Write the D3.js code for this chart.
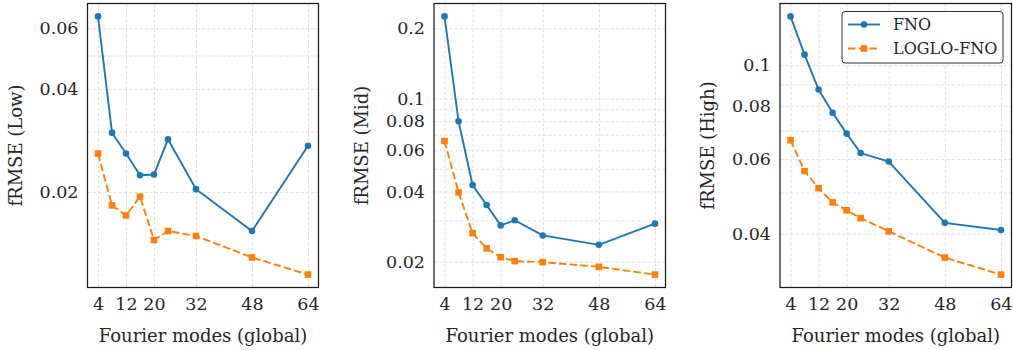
<!DOCTYPE html>
<html>
<head>
<meta charset="utf-8">
<script src="https://cdn.jsdelivr.net/npm/d3@7"></script>
<style>
  body { margin: 0; background: #fff; }
  text { font-family: "DejaVu Serif", serif; fill: #262626; }
</style>
</head>
<body>
<svg id="fig" width="1013" height="350"></svg>
<script>
// Number of global Fourier modes on the x axis
const modes = [4, 8, 12, 16, 20, 24, 32, 48, 64];
const xTickValues = [4, 12, 20, 32, 48, 64];

// fRMSE per frequency band
const fnoLow    = [0.065, 0.0298, 0.0259, 0.0224, 0.0225, 0.0285, 0.0204, 0.0154, 0.0273];
const logloLow  = [0.0259, 0.0183, 0.0171, 0.0194, 0.0145, 0.0154, 0.0149, 0.0129, 0.0115];
const fnoMid    = [0.225, 0.0799, 0.0426, 0.0350, 0.0286, 0.0301, 0.0259, 0.0236, 0.0291];
const logloMid  = [0.0658, 0.0396, 0.0265, 0.0228, 0.0209, 0.0201, 0.0199, 0.0190, 0.0176];
const fnoHigh   = [0.1304, 0.1059, 0.0876, 0.0772, 0.0689, 0.0620, 0.0592, 0.0424, 0.0408];
const logloHigh = [0.0665, 0.0562, 0.0512, 0.0474, 0.0454, 0.0435, 0.0405, 0.0351, 0.0320];

// Labelled y ticks and grid levels per panel
const lowLabels  = [0.02, 0.04, 0.06];
const lowGrid    = [0.02, 0.03, 0.04, 0.05, 0.06];
const midLabels  = [0.02, 0.04, 0.06, 0.08, 0.1, 0.2];
const midGrid    = [0.02, 0.03, 0.04, 0.05, 0.06, 0.07, 0.08, 0.09, 0.1, 0.2];
const highLabels = [0.04, 0.06, 0.08, 0.1];
const highGrid   = [0.04, 0.05, 0.06, 0.07, 0.08, 0.09, 0.1];

const seriesNames = ["FNO", "LOGLO-FNO"];
const colors = ["#1f77b4", "#ff7f0e"];

const svg = d3.select("#fig");
const plotTop = 3.5, plotBottom = 287.5, tickFs = 17.5, labelFs = 18, legendFs = 16;

const panels = [
  { left: 87.5,  right: 318.5,  label: "fRMSE (Low)",  fno: fnoLow,  loglo: logloLow,  labels: lowLabels,  grid: lowGrid },
  { left: 434,   right: 665.5,  label: "fRMSE (Mid)",  fno: fnoMid,  loglo: logloMid,  labels: midLabels,  grid: midGrid },
  { left: 780,   right: 1011.5, label: "fRMSE (High)", fno: fnoHigh, loglo: logloHigh, labels: highLabels, grid: highGrid, legend: true }
];

// log-space padding of 5% like the usual autoscale margins
function logDomain(vals) {
  const lo = d3.min(vals), hi = d3.max(vals);
  const pad = 0.05 * Math.log(hi / lo);
  return [lo * Math.exp(-pad), hi * Math.exp(pad)];
}
const xPad = 0.05 * (d3.max(modes) - d3.min(modes));

panels.forEach(p => {
  const x = d3.scaleLinear().domain([d3.min(modes) - xPad, d3.max(modes) + xPad]).range([p.left, p.right]);
  const y = d3.scaleLog().domain(logDomain(p.fno.concat(p.loglo))).range([plotBottom, plotTop]);
  const g = svg.append("g");

  // grid
  const gx = g.append("g").attr("transform", `translate(0,${plotBottom})`)
    .call(d3.axisBottom(x).tickValues(xTickValues).tickSize(-(plotBottom - plotTop)).tickFormat(""));
  const gy = g.append("g").attr("transform", `translate(${p.left},0)`)
    .call(d3.axisLeft(y).tickValues(p.grid).tickSize(-(p.right - p.left)).tickFormat(""));
  [gx, gy].forEach(a => {
    a.select(".domain").remove();
    a.selectAll("line").attr("stroke", "#d9d9d9").attr("stroke-width", 0.8).attr("stroke-dasharray", "3.2,2");
  });

  // tick labels
  const ax = g.append("g").attr("transform", `translate(0,${plotBottom})`)
    .call(d3.axisBottom(x).tickValues(xTickValues).tickSize(0).tickPadding(10).tickFormat(d3.format("d")));
  const ay = g.append("g").attr("transform", `translate(${p.left},0)`)
    .call(d3.axisLeft(y).tickValues(p.labels).tickSize(0).tickPadding(9).tickFormat(d => String(d)));
  [ax, ay].forEach(a => {
    a.select(".domain").remove();
    a.selectAll("text").attr("font-size", tickFs).attr("font-family", "DejaVu Serif").attr("fill", "#2b2b2b");
  });

  // axis titles
  g.append("text").attr("x", (p.left + p.right) / 2).attr("y", 342)
    .attr("text-anchor", "middle").attr("font-size", labelFs).attr("fill", "#2b2b2b").text("Fourier modes (global)");
  g.append("text")
    .attr("transform", `translate(${p.left - 66},${(plotTop + plotBottom) / 2}) rotate(-90)`)
    .attr("text-anchor", "middle").attr("font-size", labelFs).attr("fill", "#2b2b2b").text(p.label);

  // lines + markers
  const line = d3.line().x((d, i) => x(modes[i])).y(d => y(d));
  g.append("path").datum(p.fno).attr("d", line).attr("fill", "none")
    .attr("stroke", colors[0]).attr("stroke-width", 1.9);
  g.append("path").datum(p.loglo).attr("d", line).attr("fill", "none")
    .attr("stroke", colors[1]).attr("stroke-width", 1.9).attr("stroke-dasharray", "7.5,3.2");
  g.selectAll("circle.fno").data(p.fno).enter().append("circle")
    .attr("cx", (d, i) => x(modes[i])).attr("cy", d => y(d)).attr("r", 3.3).attr("fill", colors[0]);
  g.selectAll("rect.loglo").data(p.loglo).enter().append("rect")
    .attr("x", (d, i) => x(modes[i]) - 3.3).attr("y", d => y(d) - 3.3)
    .attr("width", 6.6).attr("height", 6.6).attr("fill", colors[1]);

  // frame
  g.append("rect").attr("x", p.left).attr("y", plotTop).attr("width", p.right - p.left).attr("height", plotBottom - plotTop)
    .attr("fill", "none").attr("stroke", "#1a1a1a").attr("stroke-width", 1.25);

  if (p.legend) {
    const lg = svg.append("g");
    lg.append("rect").attr("x", 842).attr("y", 11.5).attr("width", 161).attr("height", 51.5)
      .attr("rx", 3).attr("fill", "#fff").attr("stroke", "#333").attr("stroke-width", 1);
    seriesNames.forEach((name, i) => {
      const ly = 24.5 + i * 24;
      lg.append("line").attr("x1", 848).attr("x2", 880).attr("y1", ly).attr("y2", ly)
        .attr("stroke", colors[i]).attr("stroke-width", 1.9)
        .attr("stroke-dasharray", i === 1 ? "7.5,3.2" : null);
      if (i === 0) lg.append("circle").attr("cx", 864).attr("cy", ly).attr("r", 3.3).attr("fill", colors[0]);
      else lg.append("rect").attr("x", 860.7).attr("y", ly - 3.3).attr("width", 6.6).attr("height", 6.6).attr("fill", colors[1]);
      lg.append("text").attr("x", 893).attr("y", ly).attr("dy", "0.35em").attr("font-size", legendFs).attr("fill", "#2b2b2b").text(name);
    });
  }
});
</script>
</body>
</html>
